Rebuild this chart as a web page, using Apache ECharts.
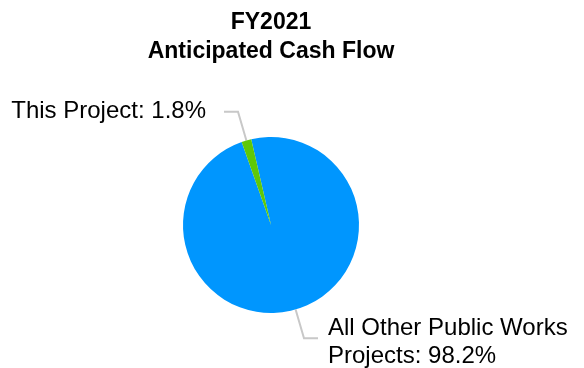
<!DOCTYPE html>
<html>
<head>
<meta charset="utf-8">
<script src="https://cdn.jsdelivr.net/npm/echarts@6/dist/echarts.min.js"></script>
<style>
  html, body { margin: 0; padding: 0; background: #fff; }
  #chart { width: 584px; height: 368px; }
</style>
</head>
<body>
<div id="chart"></div>
<script>
// Share of the FY2021 anticipated cash flow
const categories = ['All Other Public Works\nProjects', 'This Project'];
const shares = [98.2, 1.8];
const sliceColors = ['#0096fe', '#5fc808'];

const chart = echarts.init(document.getElementById('chart'), null, { renderer: 'canvas' });

// per-slice label spacing
const labelGaps = [10, 18];
const labelShiftY = [4, 0];

chart.setOption({
  animation: false,
  backgroundColor: '#ffffff',
  title: {
    text: 'FY2021\nAnticipated Cash Flow',
    left: 266,
    top: 3,
    textAlign: 'center',
    textStyle: {
      fontFamily: 'Liberation Sans, Arial, sans-serif',
      fontSize: 23,
      fontWeight: 'bold',
      color: '#000',
      lineHeight: 29
    }
  },
  series: [{
    type: 'pie',
    center: [271, 225],
    radius: 88,
    startAngle: 103,
    clockwise: true,
    avoidLabelOverlap: false,
    data: categories.map((name, i) => ({
      name: name,
      value: shares[i],
      itemStyle: { color: sliceColors[i] },
      label: { distanceToLabelLine: labelGaps[i] }
    })),
    label: {
      show: true,
      position: 'outside',
      formatter: p => p.name + ': ' + p.value.toFixed(1) + '%',
      fontFamily: 'Liberation Sans, Arial, sans-serif',
      fontSize: 24,
      lineHeight: 28,
      color: '#000'
    },
    labelLine: {
      show: true,
      length: 30,
      length2: 14,
      smooth: false,
      lineStyle: { color: '#c8c8c8', width: 2 }
    },
    labelLayout: p => ({ dy: labelShiftY[p.dataIndex] }),
    emphasis: { disabled: true }
  }]
});
</script>
</body>
</html>
